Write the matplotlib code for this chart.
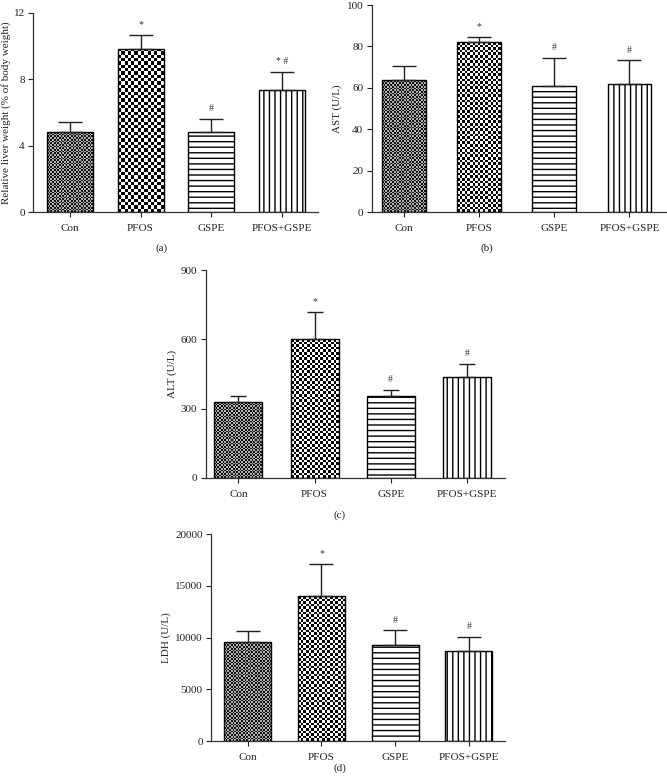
import numpy as np
import matplotlib
matplotlib.use('Agg')
import matplotlib.pyplot as plt

plt.rcParams['font.family'] = ['Liberation Serif', 'DejaVu Serif']

groups = ['Con', 'PFOS', 'GSPE', 'PFOS+GSPE']

liver = [4.82, 9.83, 4.82, 7.38]
liver_err = [0.59, 0.84, 0.79, 1.06]
ast = [64.0, 81.9, 60.8, 61.6]
ast_err = [6.5, 2.7, 13.7, 11.6]
alt = [328, 600, 354, 435]
alt_err = [27, 118, 27, 58]
ldh = [9600, 14010, 9275, 8700]
ldh_err = [1060, 3090, 1450, 1350]

marks_a = ['', '*', '#', '* #']
marks_other = ['', '*', '#', '#']

fig = plt.figure(figsize=(6.67, 7.82), dpi=100)


def checker(ax, bar, cell, c1, c2):
    # fill a bar with a checkerboard image clipped to it
    fig.canvas.draw()
    x0, y0 = bar.get_x(), bar.get_y()
    w, h = bar.get_width(), bar.get_height()
    p0 = ax.transData.transform((x0, y0))
    p1 = ax.transData.transform((x0 + w, y0 + h))
    nx = max(1, int(round((p1[0] - p0[0]) / cell)))
    ny = max(1, int(round((p1[1] - p0[1]) / cell)))
    grid = (np.add.outer(np.arange(ny), np.arange(nx)) % 2).astype(float)
    cmap = matplotlib.colors.ListedColormap([c1, c2])
    im = ax.imshow(grid, cmap=cmap, extent=(x0, x0 + w, y0, y0 + h),
                   interpolation='nearest', aspect='auto', zorder=1)
    im.set_clip_path(bar)


def panel(rect, vals, errs, marks, ylabel, ymax, step, xlim, width, cap, pfos_cell, lpad=3):
    ax = fig.add_axes(rect)
    x = np.arange(len(groups))
    bars = ax.bar(x, vals, width=width, color='white', edgecolor='black',
                  linewidth=1.0, zorder=2)
    bars[0].set_facecolor('none')
    bars[1].set_facecolor('none')
    bars[2].set_hatch('---')
    bars[3].set_hatch('|||')
    ax.errorbar(x, vals, yerr=[np.zeros(len(vals)), errs], fmt='none',
                ecolor='#222222', elinewidth=1.0, capsize=cap, capthick=1.0, zorder=3)
    for xi, v, e, m in zip(x, vals, errs, marks):
        if m:
            ax.annotate(m, (xi, v + e), xytext=(0, 4), textcoords='offset points',
                        ha='center', va='bottom', fontsize=7, color='#333333')
    ax.set_xlim(*xlim)
    ax.set_ylim(0, ymax)
    ax.set_yticks(np.arange(0, ymax + step / 2, step))
    ax.set_xticks(x)
    ax.set_xticklabels(groups)
    ax.set_ylabel(ylabel, fontsize=8, color='#222222', labelpad=lpad)
    ax.tick_params(labelsize=8, colors='#222222', length=3.5, width=0.8, pad=2.5)
    ax.tick_params(axis='x', pad=5)
    for s in ['top', 'right']:
        ax.spines[s].set_visible(False)
    for s in ['left', 'bottom']:
        ax.spines[s].set_color('#333333')
        ax.spines[s].set_linewidth(0.9)
    checker(ax, bars[0], 1.7, '#111111', '#b0b0b0')
    checker(ax, bars[1], pfos_cell, '#000000', '#ffffff')
    return ax


panel([0.0495, 0.7289, 0.4275, 0.2545], liver, liver_err, marks_a,
      'Relative liver weight (% of body weight)', 12, 4, (-0.52, 3.51), 0.65, 8.3, 3.3, lpad=2)
panel([0.557, 0.7289, 0.443, 0.2647], ast, ast_err, marks_other,
      'AST (U/L)', 100, 20, (-0.43, 3.5), 0.58, 8.3, 2.6)
panel([0.3084, 0.389, 0.4486, 0.2657], alt, alt_err, marks_other,
      'ALT (U/L)', 900, 300, (-0.43, 3.5), 0.63, 5.8, 2.6)
panel([0.3163, 0.0524, 0.4407, 0.2646], ldh, ldh_err, marks_other,
      'LDH (U/L)', 20000, 5000, (-0.5, 3.49), 0.64, 8.3, 2.6)

for lbl, fx, fy in [('(a)', 162, 248), ('(b)', 487, 248), ('(c)', 340, 515), ('(d)', 340, 768)]:
    fig.text(fx / 667, 1 - fy / 782, lbl, ha='center', va='center', fontsize=8, color='#222222')

fig.savefig('out.png', dpi=100)
